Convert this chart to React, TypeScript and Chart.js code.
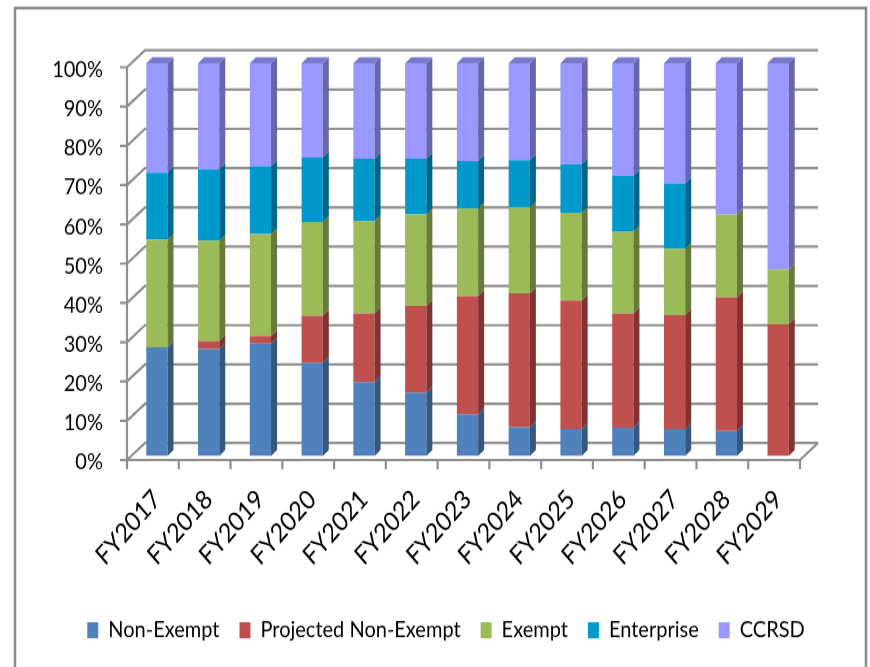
import { useEffect, useRef } from "react";
import { Chart, registerables } from "chart.js";

Chart.register(...registerables);

// Share of each budget group per fiscal year (percent of total)
const categories = [
  "FY2017", "FY2018", "FY2019", "FY2020", "FY2021", "FY2022", "FY2023",
  "FY2024", "FY2025", "FY2026", "FY2027", "FY2028", "FY2029",
];
const nonExempt = [27.7, 27.2, 28.6, 23.7, 18.8, 16.2, 10.6, 7.3, 6.9, 7.2, 6.9, 6.4, 0];
const projectedNonExempt = [0, 2.1, 1.9, 12.0, 17.5, 22.0, 30.1, 34.1, 32.7, 29.1, 29.0, 34.0, 33.6];
const exempt = [27.4, 25.5, 26.0, 23.9, 23.5, 23.3, 22.3, 21.9, 22.3, 20.8, 16.9, 21.1, 13.9];
const enterprise = [17.0, 18.2, 17.3, 16.4, 15.9, 14.2, 12.1, 12.0, 12.4, 14.2, 16.6, 0, 0];
const ccrsd = [27.9, 27.0, 26.2, 24.0, 24.3, 24.3, 24.9, 24.7, 25.7, 28.7, 30.6, 38.5, 52.5];
const seriesNames = ["Non-Exempt", "Projected Non-Exempt", "Exempt", "Enterprise", "CCRSD"];
const yTickStep = 10;
const yMax = 100;

const FONT = "Lato, 'Open Sans', sans-serif";

// the chart is drawn on a shorter canvas and stretched vertically to fill the page
const CANVAS_W = 870;
const CANVAS_H = 580;
const STRETCH_Y = 667 / CANVAS_H;

// front / side / top colours of each column segment
const seriesStyle = [
  { face: "#4F81BD", side: "#36587F", top: "#3F6797" },
  { face: "#C0504D", side: "#803432", top: "#9A403E" },
  { face: "#9BBB59", side: "#677A3A", top: "#7C9647" },
  { face: "#0099CC", side: "#006688", top: "#007AA3" },
  { face: "#9999FF", side: "#6666AA", top: "#7A7ACC" },
];

// 3D frame offsets relative to the plane the columns stand in
const FRONT_DX = -4;
const FRONT_DY = 3.5;
const BACK_DX = 14;
const BACK_DY = -11.3;
const BAR_DX = 6;
const BAR_DY = -5.2;
const GRID_COLOR = "#8f8f8f";

const frame3d = {
  id: "frame3d",
  beforeDraw(chart: any) {
    const { ctx, width, height } = chart;
    ctx.save();
    ctx.fillStyle = "#ffffff";
    ctx.fillRect(0, 0, width, height);
    ctx.strokeStyle = "#8a8a8a";
    ctx.lineWidth = 2.5;
    ctx.strokeRect(15, 7, width - 19, height + 20);
    ctx.restore();
  },
  beforeDatasetsDraw(chart: any) {
    const { ctx, chartArea: a, scales } = chart;
    const x = scales.x;
    const y = scales.y;
    const fl = a.left + FRONT_DX;
    const fr = a.right + FRONT_DX;
    const bl = a.left + BACK_DX;
    const br = a.right + BACK_DX;
    const y0 = y.getPixelForValue(0);
    const yTop = y.getPixelForValue(yMax);
    ctx.save();
    ctx.strokeStyle = GRID_COLOR;
    ctx.lineWidth = 2.2;
    ctx.lineJoin = "miter";
    // wall gridlines: tick mark, side wall diagonal, back wall line
    for (const t of y.ticks) {
      const py = y.getPixelForValue(t.value);
      ctx.beginPath();
      ctx.moveTo(fl - 7, py + FRONT_DY);
      ctx.lineTo(fl, py + FRONT_DY);
      ctx.lineTo(bl, py + BACK_DY);
      ctx.lineTo(br, py + BACK_DY);
      ctx.stroke();
    }
    // value axis line
    ctx.beginPath();
    ctx.moveTo(fl, yTop + FRONT_DY);
    ctx.lineTo(fl, y0 + FRONT_DY);
    ctx.stroke();
    // floor front and right edges
    ctx.beginPath();
    ctx.moveTo(fl, y0 + FRONT_DY);
    ctx.lineTo(fr, y0 + FRONT_DY);
    ctx.lineTo(br, y0 + BACK_DY);
    ctx.stroke();
    // category tick marks
    const n = x.ticks.length;
    const step = (a.right - a.left) / n;
    for (let i = 0; i <= n; i++) {
      const px = a.left + i * step + FRONT_DX;
      ctx.beginPath();
      ctx.moveTo(px, y0 + FRONT_DY);
      ctx.lineTo(px, y0 + FRONT_DY + 8);
      ctx.stroke();
    }
    ctx.restore();
  },
  afterDatasetsDraw(chart: any) {
    const { ctx } = chart;
    const metas = chart.getSortedVisibleDatasetMetas();
    ctx.save();
    for (let i = 0; i < categories.length; i++) {
      let topIdx = -1;
      metas.forEach((m: any, k: number) => {
        if ((chart.data.datasets[m.index].data[i] as number) > 0) topIdx = k;
      });
      metas.forEach((m: any, k: number) => {
        const el = m.data[i];
        if (!el) return;
        const p = el.getProps(["x", "y", "base", "width"], true);
        const t = Math.min(p.y, p.base);
        const b = Math.max(p.y, p.base);
        if (b - t < 0.01) return;
        const l = p.x - p.width / 2;
        const r = p.x + p.width / 2;
        const st = seriesStyle[m.index];
        // right side face
        ctx.fillStyle = st.side;
        ctx.beginPath();
        ctx.moveTo(r, t);
        ctx.lineTo(r + BAR_DX, t + BAR_DY);
        ctx.lineTo(r + BAR_DX, b + BAR_DY);
        ctx.lineTo(r, b);
        ctx.closePath();
        ctx.fill();
        // top face of the highest segment
        if (k === topIdx) {
          ctx.fillStyle = st.top;
          ctx.beginPath();
          ctx.moveTo(l, t);
          ctx.lineTo(l + BAR_DX, t + BAR_DY);
          ctx.lineTo(r + BAR_DX, t + BAR_DY);
          ctx.lineTo(r, t);
          ctx.closePath();
          ctx.fill();
        }
      });
    }
    ctx.restore();
  },
};

export default function App() {
  const canvasRef = useRef<HTMLCanvasElement | null>(null);

  useEffect(() => {
    document.body.style.margin = "0";
    const canvas = canvasRef.current;
    if (!canvas) return;
    const values = [nonExempt, projectedNonExempt, exempt, enterprise, ccrsd];
    const chart = new Chart(canvas, {
      type: "bar",
      data: {
        labels: categories,
        datasets: values.map((data, i) => ({
          label: seriesNames[i],
          data,
          backgroundColor: seriesStyle[i].face,
          borderWidth: 0,
          barPercentage: 0.41,
          categoryPercentage: 1.0,
          stack: "share",
          yAxisID: "y",
        })),
      },
      options: {
        responsive: false,
        animation: false,
        devicePixelRatio: 1,
        layout: { padding: { left: 48, right: 26, top: 55, bottom: 12 } },
        plugins: {
          tooltip: { enabled: false },
          legend: {
            position: "bottom",
            labels: {
              font: { family: FONT, size: 20 },
              color: "#000000",
              boxWidth: 11,
              boxHeight: 14,
              padding: 20,
            },
          },
        },
        scales: {
          x: {
            stacked: true,
            grid: { display: false, drawTicks: false },
            border: { display: false },
            ticks: {
              font: { family: FONT, size: 23 },
              color: "#000000",
              minRotation: 45,
              maxRotation: 45,
              autoSkip: false,
              padding: 24,
              labelOffset: 0,
            },
            afterFit: (s: any) => {
              s.height = 121.5;
            },
          },
          y: {
            position: "left",
            stacked: true,
            min: 0,
            max: yMax,
            grid: { display: false, drawTicks: false },
            border: { display: false },
            ticks: {
              stepSize: yTickStep,
              font: { family: FONT, size: 20 },
              color: "#000000",
              padding: 28,
              labelOffset: 5.5,
              callback: (v: any) => `${v}%`,
            },
            afterFit: (s: any) => {
              s.width = 83;
            },
          },
          // empty axis that reserves room right of the plot
          spacer: {
            position: "right",
            grid: { display: false, drawTicks: false },
            border: { display: false },
            ticks: { display: false },
            afterFit: (s: any) => {
              s.width = 40;
            },
          },
        },
      },
      plugins: [frame3d],
    });
    return () => chart.destroy();
  }, []);

  return (
    <div style={{ width: 870, height: 667, overflow: "hidden" }}>
      <canvas
        ref={canvasRef}
        width={CANVAS_W}
        height={CANVAS_H}
        style={{
          display: "block",
          transform: `scaleY(${STRETCH_Y})`,
          transformOrigin: "0 0",
        }}
      />
    </div>
  );
}
